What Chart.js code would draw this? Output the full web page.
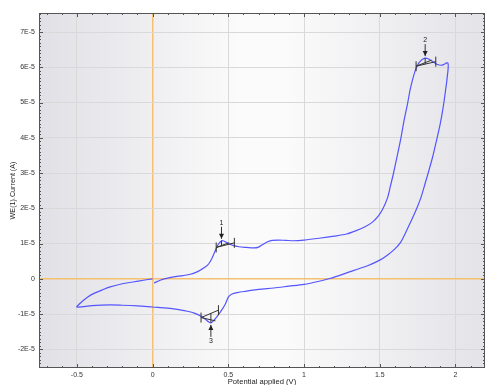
<!DOCTYPE html>
<html>
<head>
<meta charset="utf-8">
<script src="https://cdn.jsdelivr.net/npm/chart.js@4.4.1/dist/chart.umd.min.js"></script>
<style>
  html, body { margin: 0; padding: 0; background: #fff; }
  #wrap { width: 486px; height: 385px; }
</style>
</head>
<body>
<div id="wrap"><canvas id="cv"></canvas></div>
<script>
// cyclic voltammogram (V, A)
const potential = [
  0.01, 0.05, 0.10, 0.15, 0.20, 0.25, 0.29, 0.32, 0.35, 0.37, 0.39, 0.41, 0.43, 0.45, 0.465, 0.48,
  0.50, 0.53, 0.57, 0.62, 0.67, 0.70, 0.73, 0.76, 0.79, 0.83, 0.88, 0.93, 1.00, 1.10, 1.20, 1.28,
  1.34, 1.40, 1.45, 1.49, 1.52, 1.55, 1.57, 1.59, 1.615, 1.64, 1.66, 1.685, 1.70, 1.715, 1.73, 1.745,
  1.76, 1.78, 1.80, 1.82, 1.85, 1.88, 1.91, 1.95,
  1.945, 1.935, 1.92, 1.90, 1.875, 1.85, 1.825, 1.80, 1.77, 1.74, 1.705, 1.67, 1.64, 1.60, 1.55, 1.50,
  1.42, 1.33, 1.25, 1.17, 1.10, 1.00, 0.90, 0.80, 0.70, 0.62, 0.56, 0.525, 0.50, 0.48, 0.46, 0.44,
  0.42, 0.40, 0.385, 0.37, 0.35, 0.32, 0.28, 0.23, 0.18, 0.10, 0.00, -0.10, -0.20, -0.28, -0.40, -0.50,
  -0.48, -0.46, -0.43, -0.39, -0.33, -0.28, -0.20, -0.13, -0.06, 0.00
];
const current = [
  -0.12e-5, -0.04e-5, 0.02e-5, 0.06e-5, 0.09e-5, 0.13e-5, 0.19e-5, 0.26e-5, 0.34e-5, 0.42e-5, 0.56e-5, 0.76e-5, 0.95e-5, 1.06e-5, 1.08e-5, 1.05e-5,
  1.00e-5, 0.95e-5, 0.91e-5, 0.89e-5, 0.875e-5, 0.90e-5, 0.98e-5, 1.05e-5, 1.09e-5, 1.10e-5, 1.09e-5, 1.08e-5, 1.10e-5, 1.15e-5, 1.21e-5, 1.27e-5,
  1.36e-5, 1.47e-5, 1.60e-5, 1.78e-5, 1.98e-5, 2.28e-5, 2.62e-5, 2.98e-5, 3.48e-5, 4.00e-5, 4.48e-5, 5.00e-5, 5.35e-5, 5.62e-5, 5.85e-5, 6.02e-5,
  6.13e-5, 6.22e-5, 6.26e-5, 6.24e-5, 6.16e-5, 6.08e-5, 6.06e-5, 6.12e-5,
  5.70e-5, 5.36e-5, 4.90e-5, 4.41e-5, 3.93e-5, 3.47e-5, 3.08e-5, 2.71e-5, 2.28e-5, 1.95e-5, 1.62e-5, 1.30e-5, 1.05e-5, 0.85e-5, 0.67e-5, 0.53e-5,
  0.37e-5, 0.24e-5, 0.12e-5, 0.01e-5, -0.07e-5, -0.16e-5, -0.21e-5, -0.26e-5, -0.30e-5, -0.35e-5, -0.39e-5, -0.43e-5, -0.52e-5, -0.72e-5, -0.86e-5, -0.99e-5,
  -1.10e-5, -1.20e-5, -1.25e-5, -1.22e-5, -1.15e-5, -1.06e-5, -0.98e-5, -0.92e-5, -0.88e-5, -0.83e-5, -0.80e-5, -0.77e-5, -0.75e-5, -0.74e-5, -0.76e-5, -0.80e-5,
  -0.70e-5, -0.62e-5, -0.52e-5, -0.42e-5, -0.31e-5, -0.23e-5, -0.14e-5, -0.09e-5, -0.04e-5, 0.00
];

const xTicks = [-0.5, 0, 0.5, 1, 1.5, 2];
const yTicks = [-2e-5, -1e-5, 0, 1e-5, 2e-5, 3e-5, 4e-5, 5e-5, 6e-5, 7e-5];

// peak markers: label, peak position, baseline ends, arrow direction
const peakLabels = ['1', '2', '3'];
const peakV = [0.455, 1.80, 0.385];
const peakI = [1.08e-5, 6.26e-5, -1.25e-5];
const baseV0 = [0.42, 1.74, 0.32];
const baseI0 = [0.89e-5, 6.03e-5, -1.10e-5];
const baseV1 = [0.54, 1.87, 0.435];
const baseI1 = [1.02e-5, 6.16e-5, -0.89e-5];
const arrowDown = [true, true, false];

const FONT = 'Liberation Sans, Arial, sans-serif';
const ORANGE = 'rgb(245, 192, 112)';

function fmtY(v) {
  if (Math.abs(v) < 1e-12) return '0';
  return Math.round(v / 1e-5) + 'E-5';
}

const bgPlugin = {
  id: 'bg',
  beforeDraw(chart) {
    const {ctx, chartArea: a} = chart;
    const g = ctx.createLinearGradient(a.left, 0, a.right, 0);
    g.addColorStop(0, '#e0e0e6');
    g.addColorStop(0.45, '#fbfbfb');
    g.addColorStop(0.55, '#fbfbfb');
    g.addColorStop(1, '#e3e3e8');
    ctx.save();
    ctx.fillStyle = g;
    ctx.fillRect(a.left, a.top, a.right - a.left, a.bottom - a.top);
    ctx.restore();
  }
};

const framePlugin = {
  id: 'frame',
  afterDraw(chart) {
    const {ctx, chartArea: a, scales} = chart;
    const x = scales.x, y = scales.y;
    ctx.save();
    ctx.strokeStyle = '#555';
    ctx.lineWidth = 1;
    ctx.strokeRect(a.left + 0.5, a.top + 0.5, a.right - a.left - 1, a.bottom - a.top - 1);
    ctx.beginPath();
    // minor ticks x every 0.1, y every 0.1E-5
    for (let i = -8; i <= 22; i++) {
      const px = Math.round(x.getPixelForValue(i / 10)) + 0.5;
      if (px <= a.left || px >= a.right) continue;
      const len = i % 5 === 0 ? 4 : 2;
      ctx.moveTo(px, a.bottom); ctx.lineTo(px, a.bottom - len);
      ctx.moveTo(px, a.top); ctx.lineTo(px, a.top + len);
    }
    for (let i = -26; i <= 76; i++) {
      const py = Math.round(y.getPixelForValue(i * 1e-6)) + 0.5;
      if (py <= a.top || py >= a.bottom) continue;
      const len = i % 10 === 0 ? 4 : 2;
      ctx.moveTo(a.left, py); ctx.lineTo(a.left + len, py);
      ctx.moveTo(a.right, py); ctx.lineTo(a.right - len, py);
    }
    ctx.stroke();
    ctx.restore();
  }
};

const peakPlugin = {
  id: 'peaks',
  afterDatasetsDraw(chart) {
    const {ctx, scales} = chart;
    const x = scales.x, y = scales.y;
    ctx.save();
    ctx.strokeStyle = '#333';
    ctx.fillStyle = '#222';
    ctx.lineWidth = 1;
    for (let k = 0; k < peakLabels.length; k++) {
      const x0 = x.getPixelForValue(baseV0[k]), y0 = y.getPixelForValue(baseI0[k]);
      const x1 = x.getPixelForValue(baseV1[k]), y1 = y.getPixelForValue(baseI1[k]);
      const px = x.getPixelForValue(peakV[k]), py = y.getPixelForValue(peakI[k]);
      const t = (px - x0) / (x1 - x0);
      const by = y0 + t * (y1 - y0);
      ctx.beginPath();
      // baseline with end bars
      ctx.moveTo(x0, y0); ctx.lineTo(x1, y1);
      ctx.moveTo(x0, y0 - 5); ctx.lineTo(x0, y0 + 5);
      ctx.moveTo(x1, y1 - 5); ctx.lineTo(x1, y1 + 5);
      // wedge to the peak
      ctx.moveTo(x0, y0); ctx.lineTo(px + (x1 - px) * 0.6, py + (arrowDown[k] ? 2 : -2));
      ctx.moveTo(px, py); ctx.lineTo(px, by);
      ctx.stroke();
      // arrow
      const dir = arrowDown[k] ? -1 : 1;
      const tip = py + dir * 2;
      const tail = tip + dir * 12;
      ctx.beginPath();
      ctx.moveTo(px, tail); ctx.lineTo(px, tip);
      ctx.stroke();
      ctx.beginPath();
      ctx.moveTo(px, tip); ctx.lineTo(px - 2.5, tip + dir * 5); ctx.lineTo(px + 2.5, tip + dir * 5);
      ctx.closePath();
      ctx.fill();
      ctx.font = '7px ' + FONT;
      ctx.textAlign = 'center';
      ctx.textBaseline = 'middle';
      ctx.fillText(peakLabels[k], px, tail + dir * 4);
    }
    ctx.restore();
  }
};

const points = potential.map((v, i) => ({x: v, y: current[i]}));

new Chart(document.getElementById('cv'), {
  type: 'scatter',
  data: {
    datasets: [{
      data: points,
      showLine: true,
      borderColor: 'rgb(85, 85, 255)',
      borderWidth: 1.2,
      pointRadius: 0,
      tension: 0.3
    }]
  },
  options: {
    responsive: true,
    maintainAspectRatio: false,
    animation: false,
    layout: { padding: { top: 13, right: 1, left: 0, bottom: 0 } },
    plugins: {
      legend: { display: false },
      tooltip: { enabled: false }
    },
    scales: {
      x: {
        type: 'linear',
        min: -0.75,
        max: 2.195,
        afterBuildTicks: s => { s.ticks = xTicks.map(v => ({value: v})); },
        afterFit: s => { s.height = 17; },
        grid: {
          drawTicks: false,
          color: c => (c.tick && c.tick.value === 0 ? ORANGE : '#d9d9d9'),
          lineWidth: c => (c.tick && c.tick.value === 0 ? 1.5 : 1)
        },
        border: { display: false },
        ticks: {
          padding: 3,
          autoSkip: false,
          maxRotation: 0,
          color: '#333',
          font: { family: FONT, size: 7 },
          callback: v => String(v)
        },
        title: {
          display: true,
          text: 'Potential applied (V)',
          color: '#222',
          font: { family: FONT, size: 7.6 },
          padding: { top: 0, bottom: -1.5 }
        }
      },
      y: {
        type: 'linear',
        min: -2.53e-5,
        max: 7.54e-5,
        afterBuildTicks: s => { s.ticks = yTicks.map(v => ({value: v})); },
        afterFit: s => { s.width = 39; },
        grid: {
          drawTicks: false,
          color: c => (c.tick && Math.abs(c.tick.value) < 1e-12 ? ORANGE : '#d9d9d9'),
          lineWidth: c => (c.tick && Math.abs(c.tick.value) < 1e-12 ? 1.5 : 1)
        },
        border: { display: false },
        ticks: {
          padding: 4,
          autoSkip: false,
          color: '#333',
          font: { family: FONT, size: 7 },
          callback: v => fmtY(v)
        },
        title: {
          display: true,
          text: 'WE(1).Current (A)',
          color: '#222',
          font: { family: FONT, size: 7.2 },
          padding: { top: 9, bottom: 0 }
        }
      }
    }
  },
  plugins: [bgPlugin, framePlugin, peakPlugin]
});
</script>
</body>
</html>
